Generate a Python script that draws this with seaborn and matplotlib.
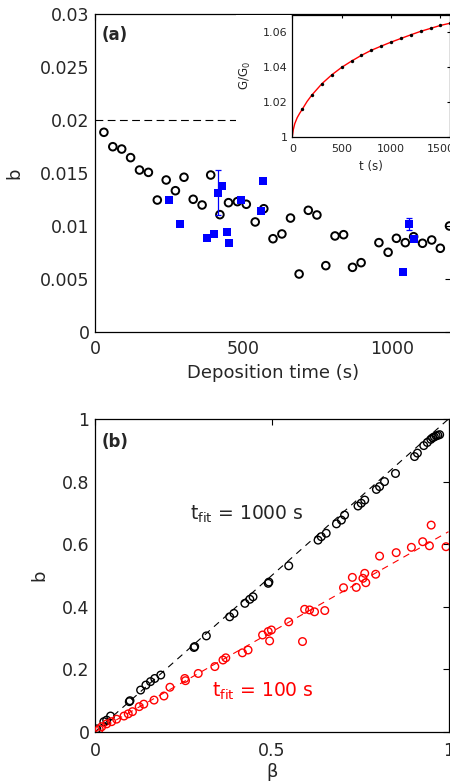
import numpy as np
import pandas as pd
import matplotlib
matplotlib.use("Agg")
import matplotlib.pyplot as plt
import seaborn as sns

# ---------------- Panel (a) data ----------------
dep_time_open = [30, 60, 90, 120, 150, 180, 210, 240, 271, 300, 331, 361, 390, 421,
                 450, 480, 510, 540, 569, 600, 630, 659, 688, 719, 748, 778, 809,
                 838, 868, 897, 957, 988, 1016, 1046, 1074, 1104, 1135, 1164, 1195]
b_open = [0.01884, 0.01748, 0.01726, 0.01645, 0.01528, 0.01506, 0.01245, 0.01434,
          0.01333, 0.0146, 0.01252, 0.01198, 0.01481, 0.01107, 0.0122, 0.0123,
          0.01205, 0.01038, 0.01163, 0.0088, 0.00925, 0.01075, 0.00547, 0.01148,
          0.01104, 0.00626, 0.00906, 0.00918, 0.0061, 0.00654, 0.00843, 0.00752,
          0.00884, 0.00843, 0.00899, 0.00837, 0.00868, 0.0079, 0.0100]

dep_time_sq = [251, 288, 379, 401, 413, 427, 446, 453, 491, 513, 560, 566, 1038, 1057, 1074]
b_sq = [0.01245, 0.01022, 0.0089, 0.00925, 0.01314, 0.01374, 0.00946, 0.00843,
        0.01245, 0.0155, 0.01145, 0.01425, 0.00566, 0.01019, 0.00875]
err_time = [413, 1057]
err_b = [0.01314, 0.01019]
err_size = [0.0021, 0.0006]
ref_level = 0.02

# inset
inset_t = [100, 200, 300, 400, 500, 600, 700, 800, 900, 1000, 1100, 1200, 1300, 1400, 1500, 1600]
inset_G = [1.0157, 1.0241, 1.0305, 1.0356, 1.0399, 1.0435, 1.0468, 1.0497, 1.0521,
           1.0544, 1.0565, 1.0586, 1.0606, 1.0623, 1.0640, 1.0653]
fit_t = [0, 10, 25, 50, 75, 100, 150, 200, 300, 400, 500, 600, 700, 800, 900, 1000,
         1100, 1200, 1300, 1400, 1500, 1600]
fit_G = [1.0, 1.004, 1.0075, 1.011, 1.0135, 1.0157, 1.0203, 1.0241, 1.0305, 1.0356,
         1.0399, 1.0435, 1.0468, 1.0497, 1.0521, 1.0544, 1.0565, 1.0586, 1.0606,
         1.0623, 1.0640, 1.0653]

# ---------------- Panel (b) data ----------------
beta_1000 = [0.93, 0.94, 0.95, 0.955, 0.96, 0.965, 0.97, 0.975, 0.912, 0.904, 0.85,
             0.819, 0.805, 0.796, 0.763, 0.753, 0.744, 0.706, 0.697, 0.683, 0.654,
             0.640, 0.631, 0.548, 0.49, 0.492, 0.447, 0.438, 0.424, 0.393, 0.381,
             0.315, 0.28, 0.282, 0.186, 0.169, 0.157, 0.144, 0.129, 0.097, 0.099,
             0.044, 0.033, 0.025, 0.005]
b_1000 = [0.915, 0.925, 0.935, 0.94, 0.943, 0.946, 0.948, 0.95, 0.891, 0.88, 0.826,
          0.80, 0.784, 0.775, 0.741, 0.731, 0.722, 0.693, 0.677, 0.665, 0.635,
          0.624, 0.613, 0.531, 0.475, 0.479, 0.432, 0.424, 0.411, 0.379, 0.368,
          0.307, 0.27, 0.273, 0.182, 0.171, 0.161, 0.150, 0.134, 0.097, 0.100,
          0.051, 0.038, 0.033, 0.01]

beta_100 = [0.951, 0.927, 0.946, 0.993, 0.895, 0.852, 0.805, 0.794, 0.763, 0.758,
            0.766, 0.728, 0.739, 0.703, 0.650, 0.621, 0.607, 0.593, 0.587, 0.548,
            0.499, 0.49, 0.474, 0.494, 0.433, 0.417, 0.370, 0.362, 0.339, 0.292,
            0.254, 0.256, 0.212, 0.195, 0.167, 0.138, 0.125, 0.106, 0.094, 0.082,
            0.061, 0.047, 0.033, 0.019, 0.012]
b_100 = [0.661, 0.608, 0.595, 0.592, 0.59, 0.573, 0.562, 0.504, 0.507, 0.491,
         0.477, 0.494, 0.462, 0.461, 0.388, 0.384, 0.390, 0.392, 0.289, 0.352,
         0.326, 0.321, 0.31, 0.291, 0.262, 0.253, 0.237, 0.23, 0.209, 0.187,
         0.171, 0.164, 0.143, 0.115, 0.102, 0.089, 0.081, 0.065, 0.058, 0.051,
         0.041, 0.033, 0.026, 0.017, 0.009]

fit_beta = [0.0, 1.0]
fit_b_1000 = [0.0, 1.0]
fit_b_100 = [0.0, 0.64]

# ---------------- style ----------------
sns.set_style("white")
plt.rcParams['font.family'] = ['DejaVu Sans']
plt.rcParams['mathtext.fontset'] = 'dejavusans'
txt = '#262626'

fig = plt.figure(figsize=(4.5, 7.84), dpi=100)

def style(ax, fs=12.5, length=4, pad=4):
    ax.tick_params(direction='in', top=True, right=True, length=length, width=0.8,
                   labelsize=fs, labelcolor=txt, color='k', pad=pad)
    for s in ax.spines.values():
        s.set_visible(True)
        s.set_color('k')
        s.set_linewidth(0.9)

# ---- top panel ----
ax1 = fig.add_axes([95/450, 1-332/784, 356/450, 318/784])
ax1.hlines(ref_level, 0, 480, colors='k', linewidth=0.8, linestyles=(0, (7, 4)))
sns.scatterplot(x=dep_time_open, y=b_open, ax=ax1, marker='o', s=30,
                facecolors='none', edgecolor='k', linewidth=1.4, zorder=3)
ax1.errorbar(err_time, err_b, yerr=err_size, fmt='none', ecolor='#0000ff',
             elinewidth=0.9, capsize=2.5, capthick=0.9, zorder=4)
sns.scatterplot(x=dep_time_sq, y=b_sq, ax=ax1, marker='s', s=30,
                color='#0000ff', linewidth=0, zorder=5)
ax1.set_xlim(0, 1200)
ax1.set_ylim(0, 0.03)
ax1.set_xticks([0, 500, 1000])
ax1.set_yticks([0, 0.005, 0.01, 0.015, 0.02, 0.025, 0.03])
ax1.set_yticklabels(['0', '0.005', '0.01', '0.015', '0.02', '0.025', '0.03'])
ax1.set_xlabel('Deposition time (s)', fontsize=13, color=txt)
ax1.set_ylabel('b', fontsize=13, color=txt)
style(ax1)
ax1.tick_params(axis='x', pad=6)
ax1.xaxis.set_label_coords(0.5, -0.10)
ax1.yaxis.set_label_coords(-0.202, 0.5)
ax1.text(0.018, 0.935, '(a)', transform=ax1.transAxes, fontsize=12,
         fontweight='bold', color=txt, va='center', ha='left')

# white backing of inset (covers the dashed line under inset labels)
fig.patches.append(plt.Rectangle((236/450, 1-175/784), 1-236/450, 160/784,
                                 transform=fig.transFigure, facecolor='white',
                                 edgecolor='none', zorder=2))

# ---- inset ----
axin = fig.add_axes([292.3/450, 1-136.7/784, 158/450, 121.7/784])
axin.set_zorder(5)
sns.lineplot(x=fit_t, y=fit_G, ax=axin, color='red', linewidth=1.0, errorbar=None)
sns.scatterplot(x=inset_t, y=inset_G, ax=axin, color='k', s=6, linewidth=0, zorder=3)
axin.set_xlim(0, 1600)
axin.set_ylim(1.0, 1.07)
axin.set_xticks([0, 500, 1000, 1500])
axin.set_yticks([1.0, 1.02, 1.04, 1.06])
axin.set_yticklabels(['1', '1.02', '1.04', '1.06'])
axin.set_xlabel('t (s)', fontsize=8.5, color=txt)
axin.set_ylabel('G/G$_0$', fontsize=8.5, color=txt)
style(axin, fs=8, length=2.5, pad=3.5)
axin.tick_params(axis='x', pad=5.5)
axin.xaxis.set_label_coords(0.5, -0.19)
axin.yaxis.set_label_coords(-0.249, 0.5)

# ---- bottom panel ----
ax2 = fig.add_axes([95/450, 1-732/784, 353.5/450, 313/784])
sns.lineplot(x=fit_beta, y=fit_b_1000, ax=ax2, color='k', linewidth=0.8,
             linestyle=(0, (6, 5)), errorbar=None)
sns.lineplot(x=fit_beta, y=fit_b_100, ax=ax2, color='red', linewidth=0.8,
             linestyle=(0, (6, 5)), errorbar=None)
sns.scatterplot(x=beta_1000, y=b_1000, ax=ax2, marker='o', s=30,
                facecolors='none', edgecolor='k', linewidth=1.0, zorder=3)
sns.scatterplot(x=beta_100, y=b_100, ax=ax2, marker='o', s=30,
                facecolors='none', edgecolor='red', linewidth=1.0, zorder=3)
ax2.set_xlim(0, 1)
ax2.set_ylim(0, 1)
ax2.set_xticks([0, 0.5, 1])
ax2.set_xticklabels(['0', '0.5', '1'])
ax2.set_yticks([0, 0.2, 0.4, 0.6, 0.8, 1])
ax2.set_yticklabels(['0', '0.2', '0.4', '0.6', '0.8', '1'])
ax2.set_xlabel('β', fontsize=13, color=txt)
ax2.set_ylabel('b', fontsize=13, color=txt)
style(ax2)
ax2.tick_params(axis='x', pad=7)
ax2.xaxis.set_label_coords(0.5, -0.099)
ax2.yaxis.set_label_coords(-0.133, 0.5)
ax2.text(0.018, 0.925, '(b)', transform=ax2.transAxes, fontsize=12,
         fontweight='bold', color=txt, va='center', ha='left')
ax2.text(0.27, 0.677, 't$_{\\mathrm{fit}}$ = 1000 s', fontsize=13.5, color=txt,
         ha='left', va='baseline')
ax2.text(0.33, 0.113, 't$_{\\mathrm{fit}}$ = 100 s', fontsize=13.5, color='red',
         ha='left', va='baseline')

fig.savefig('out.png', dpi=100, facecolor='white')
